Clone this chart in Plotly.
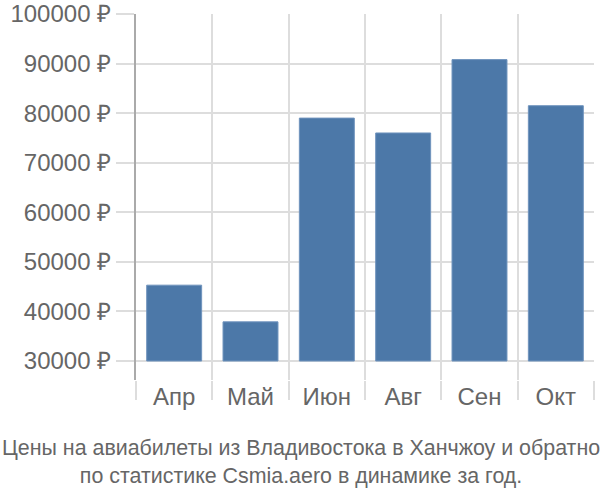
import plotly.graph_objects as go

months = ["Апр", "Май", "Июн", "Авг", "Сен", "Окт"]
prices = [45300, 37900, 79000, 76000, 90800, 81500]
base_value = 30000
y_ticks = [30000, 40000, 50000, 60000, 70000, 80000, 90000, 100000]
title_lines = ["Цены на авиабилеты из Владивостока в Ханчжоу и обратно",
               "по статистике Csmia.aero в динамике за год."]

fig = go.Figure()
fig.add_trace(go.Bar(
    x=months,
    y=[p - base_value for p in prices],
    base=base_value,
    marker=dict(color="#4c78a8", line=dict(color="#6f93bd", width=1)),
    width=0.72,
    customdata=prices,
    hovertemplate="%{x}: %{customdata} ₽<extra></extra>",
))

font = "Liberation Sans, Arial, sans-serif"
W, H = 600, 500
L, R, T, B = 136, 6, 14, 120
fig.update_layout(
    width=W, height=H,
    margin=dict(l=L, r=R, t=T, b=B),
    plot_bgcolor="white", paper_bgcolor="white",
    showlegend=False,
    font=dict(family=font, size=24, color="#666666"),
    xaxis=dict(
        type="category",
        automargin=False,
        tickson="boundaries",
        ticks="outside", ticklen=19, tickcolor="#dddddd", tickwidth=2,
        showgrid=True, gridcolor="#dddddd", gridwidth=2,
        showline=False, zeroline=False,
        tickfont=dict(size=24, color="#666666"),
    ),
    yaxis=dict(
        automargin=False,
        range=[26170, 100000],
        tickvals=y_ticks,
        ticktext=[f"{v} ₽" for v in y_ticks],
        ticks="outside", ticklen=18, tickcolor="#dddddd", tickwidth=2,
        showgrid=True, gridcolor="#dddddd", gridwidth=2,
        showline=True, linecolor="#aaaaaa", linewidth=2,
        zeroline=False,
        ticklabeloverflow="allow",
        tickfont=dict(size=24, color="#666666"),
    ),
    annotations=[dict(
        text="<br>".join(title_lines),
        xref="paper", yref="paper", x=(301 - L) / (W - L - R), y=0,
        xanchor="center", yanchor="top",
        yshift=-54, showarrow=False,
        font=dict(family=font, size=21.4, color="#666666"),
        align="center",
    )],
)

fig.write_html("out.html", config={"displayModeBar": False},
               post_script="document.body.style.margin='0';")
